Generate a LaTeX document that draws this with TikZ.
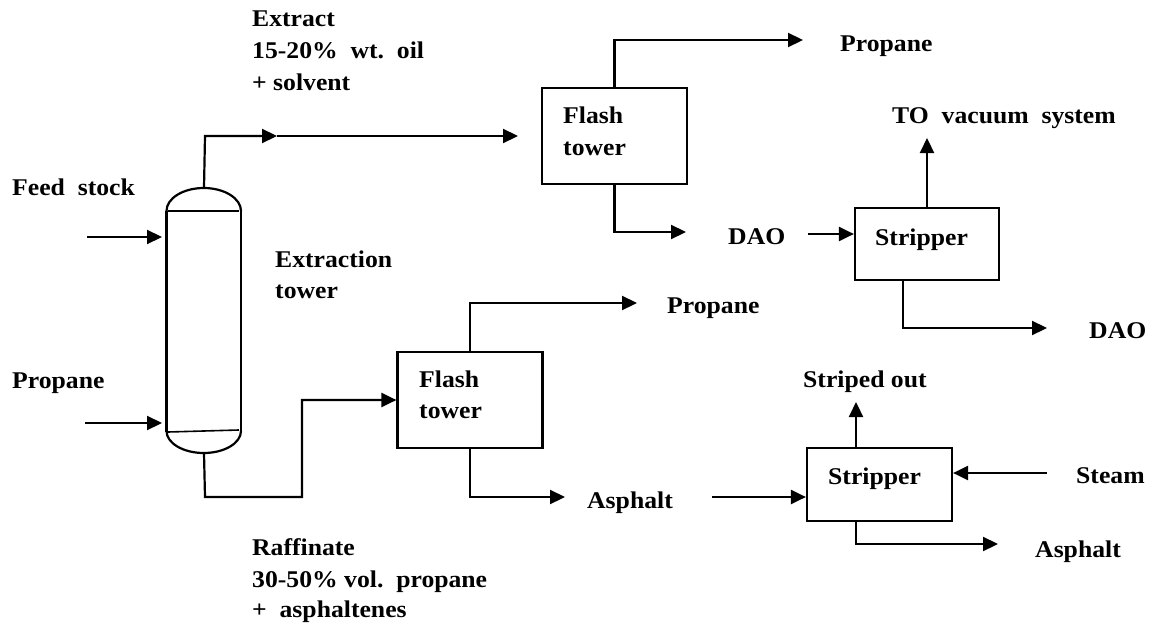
\documentclass[tikz,border=0pt]{standalone}
\usepackage{fontspec}
\setmainfont{Liberation Serif}[FakeStretch=1.07]
\usetikzlibrary{arrows.meta}
\begin{document}
\begin{tikzpicture}[x=1pt,y=-1pt,
  ln/.style={line width=2.2pt,line join=miter},
  arr/.style={ln,-{Triangle[length=15pt,width=14pt]}},
  unit/.style={draw,line width=2.2pt,inner sep=0pt,minimum width=#1},
  lbl/.style={anchor=base west,inner sep=0pt,font=\fontsize{24}{31}\selectfont\bfseries}]
\useasboundingbox (0,0) rectangle (1151,626);

% extraction column
\node[inner sep=0pt,minimum width=75,minimum height=265] (col) at (204,320.5) {};
\draw[ln] (166.5,211) -- (166.5,432);
\draw[ln] (241,211) -- (241,432);
\draw[ln] (166.5,211) arc[start angle=180,end angle=360,x radius=37.25,y radius=23];
\draw[ln] (166.5,431) arc[start angle=180,end angle=0,x radius=37.25,y radius=22];
\draw[line width=1.6pt] (168,211) -- (239,211);
\draw[line width=1.6pt] (168,432) -- (239,430);

% units
\node[unit=145pt,minimum height=96pt] (flash1) at (614.5,136) {};
\node[unit=145pt,minimum height=96pt] (flash2) at (470,400) {};
\node[unit=144pt,minimum height=72pt] (strip1) at (927,244) {};
\node[unit=145pt,minimum height=73pt] (strip2) at (879.5,484.5) {};

% labels
\node[lbl] (t1) at (252,27) {Extract};
\node[lbl] (t2) at (252,58.5) {15-20\%\ \ wt.\ \ oil};
\node[lbl] (t3) at (252,90) {+ solvent};
\node[lbl] (feed) at (12,195) {Feed\ \ stock};
\node[lbl] (prop) at (12,388) {Propane};
\node[lbl] (ex1) at (275,267) {Extraction};
\node[lbl] (ex2) at (275,298) {tower};
\node[lbl] (r1) at (252,555) {Raffinate};
\node[lbl] (r2) at (252,587) {30-50\% vol.\ \ propane};
\node[lbl] (r3) at (252,617) {+\ \ asphaltenes};
\node[lbl] (f1a) at (563,123) {Flash};
\node[lbl] (f1b) at (563,155) {tower};
\node[lbl] (f2a) at (419,387) {Flash};
\node[lbl] (f2b) at (419,418) {tower};
\node[lbl] (s1) at (875,245) {Stripper};
\node[lbl] (s2) at (828,484) {Stripper};
\node[lbl] (propt) at (840,52) {Propane};
\node[lbl] (propm) at (667,313) {Propane};
\node[lbl] (dao1) at (728,244) {DAO};
\node[lbl] (dao2) at (1089,338) {DAO};
\node[lbl] (vac) at (892,123) {TO\ \ vacuum\ \ system};
\node[lbl] (strout) at (803,387) {Striped out};
\node[lbl] (steam) at (1076,483) {Steam};
\node[lbl] (asp1) at (587,508) {Asphalt};
\node[lbl] (asp2) at (1035,557) {Asphalt};

% free ends
\coordinate (feedS) at (87,237);
\coordinate (feedE) at (162,237);
\coordinate (propS) at (85,423);
\coordinate (propE) at (162,423);
\coordinate (exA) at (205,136);
\coordinate (exB) at (277,136);
\coordinate (exC) at (518,136);
\coordinate (pt) at (803,40);
\coordinate (d1) at (686,232);
\coordinate (d1s) at (808,234);
\coordinate (vacE) at (927,138);
\coordinate (s1b) at (903,280);
\coordinate (d2) at (1047,328);
\coordinate (rA) at (205,497);
\coordinate (rB) at (302,497);
\coordinate (pm) at (637,303);
\coordinate (a1) at (565,497);
\coordinate (a1s) at (712,497);
\coordinate (soE) at (856,402);
\coordinate (s2b) at (856,521);
\coordinate (a2) at (998,544);
\coordinate (stS) at (1047,473);

% connectors
\draw[arr] (feedS) -- (feedE);
\draw[arr] (propS) -- (propE);
\draw[arr] (col.north) -- (exA) -- (exB);
\draw[arr] (exB) -- (exC);
\draw[arr] (flash1.north) |- (pt);
\draw[arr] (flash1.south) |- (d1);
\draw[arr] (d1s) -- (strip1.west |- d1s);
\draw[arr] (strip1.north) -- (vacE);
\draw[arr] (s1b) |- (d2);
\draw[arr] (col.south) -- (rA) -- (rB) |- (flash2.west);
\draw[arr] (flash2.north) |- (pm);
\draw[arr] (flash2.south) |- (a1);
\draw[arr] (a1s) -- (strip2.west |- a1s);
\draw[arr] (stS) -- (strip2.east |- stS);
\draw[arr] (strip2.north -| soE) -- (soE);
\draw[arr] (s2b) |- (a2);
\end{tikzpicture}
\end{document}
